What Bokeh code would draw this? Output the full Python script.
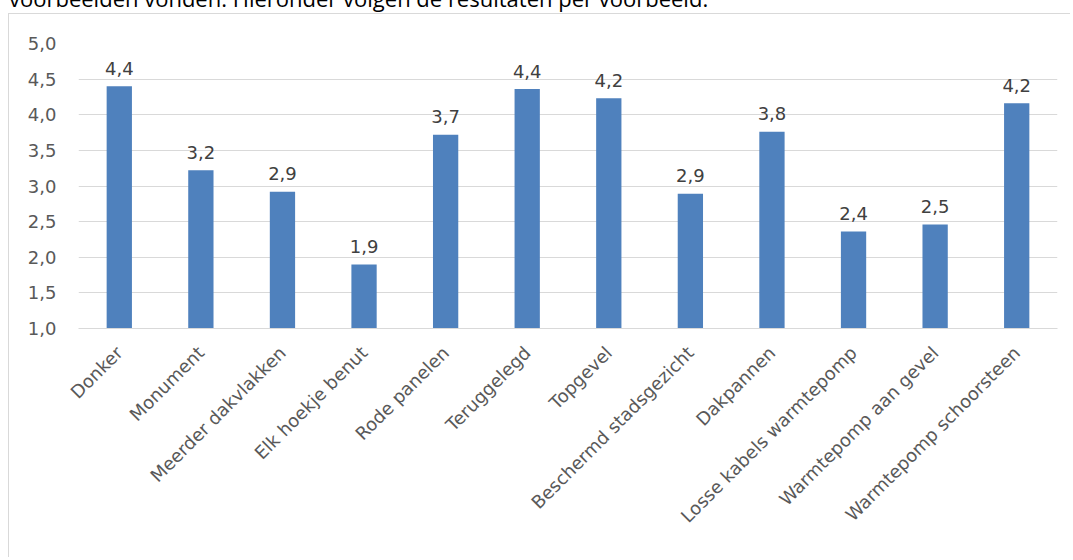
import math
from bokeh.plotting import figure
from bokeh.layouts import column
from bokeh.models import ColumnDataSource, Div, FixedTicker, CustomJSTickFormatter
from bokeh.embed import file_html
from bokeh.resources import INLINE
from bokeh.core.properties import value

categories = ["Donker", "Monument", "Meerder dakvlakken", "Elk hoekje benut", "Rode panelen",
              "Teruggelegd", "Topgevel", "Beschermd stadsgezicht", "Dakpannen",
              "Losse kabels warmtepomp", "Warmtepomp aan gevel", "Warmtepomp schoorsteen"]
scores = [4.40, 3.22, 2.92, 1.90, 3.72, 4.36, 4.23, 2.89, 3.76, 2.36, 2.46, 4.16]
y_ticks = [1.0, 1.5, 2.0, 2.5, 3.0, 3.5, 4.0, 4.5, 5.0]
caption = "voorbeelden vonden. Hieronder volgen de resultaten per voorbeeld."

labels = [f"{v:.1f}".replace(".", ",") for v in scores]
src = ColumnDataSource(dict(cat=categories, score=scores, label=labels))

FONT = "DejaVu Sans"
FS = "18px"

cap_div = Div(
    text=('<div style="position:relative; top:-17px; left:9px; white-space:nowrap; '
          'font-family:\'Open Sans\'; font-size:22px; color:#000000;">' + caption + '</div>'),
    width=1060, height=14, margin=0, styles={"overflow": "hidden"})

p = figure(x_range=categories, y_range=(y_ticks[0], y_ticks[-1]), width=1062, height=544,
           output_backend="svg", toolbar_location=None,
           min_border_left=69, min_border_right=14, min_border_top=29, min_border_bottom=230)
p.margin = (0, 0, 0, 9)
p.styles = {"box-shadow": "-1px -1px 0 0 #d9d9d9, 4px 0 0 0 #ffffff"}
p.outline_line_color = None
p.background_fill_color = "white"
p.border_fill_color = "white"

p.vbar(x="cat", top="score", bottom=y_ticks[0], width=0.31, source=src,
       fill_color="#4f81bd", line_color=None)
p.text(x="cat", y="score", text="label", source=src, y_offset=-18,
       text_align="center", text_baseline="alphabetic",
       text_font=value(FONT), text_font_size=FS, text_color="#404040")

p.xgrid.grid_line_color = None
p.ygrid.grid_line_color = "#d9d9d9"
p.ygrid.grid_line_width = 1

ya = p.yaxis[0]
ya.ticker = FixedTicker(ticks=y_ticks)
ya.formatter = CustomJSTickFormatter(code="return tick.toFixed(1).replace('.', ',');")
ya.axis_line_color = None
ya.major_tick_line_color = None
ya.minor_tick_line_color = None
ya.major_label_standoff = 16
ya.major_label_text_font = FONT
ya.major_label_text_font_size = FS
ya.major_label_text_color = "#595959"

xa = p.xaxis[0]
xa.axis_line_color = "#d9d9d9"
xa.major_tick_line_color = None
xa.minor_tick_line_color = None
xa.major_label_orientation = math.pi / 4
xa.major_label_standoff = 15
xa.major_label_text_font = FONT
xa.major_label_text_font_size = FS
xa.major_label_text_color = "#595959"

root = column(cap_div, p, spacing=0)
html = file_html(root, INLINE)
html = html.replace(
    "<head>",
    "<head><style>html, body { overflow: hidden; } ::-webkit-scrollbar { display: none; }</style>",
    1)
open("out.html", "w").write(html)
